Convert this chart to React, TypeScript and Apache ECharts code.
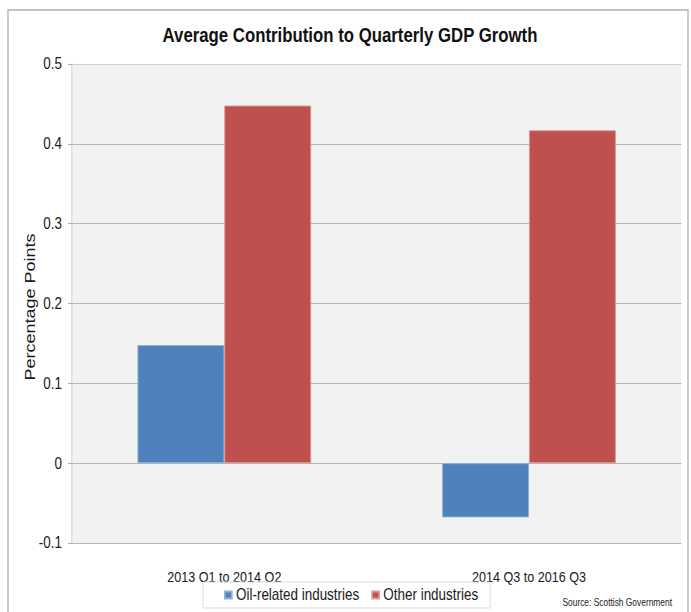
import React, { useEffect, useRef } from "react";
import * as echarts from "echarts";

const categories = ["2013 Q1 to 2014 Q2", "2014 Q3 to 2016 Q3"];
const oilRelated = [0.148, -0.068];
const otherIndustries = [0.448, 0.417];
const seriesNames = ["Oil-related industries", "Other industries"];
const titleText = "Average Contribution to Quarterly GDP Growth";
const yAxisTitle = "Percentage Points";
const sourceText = "Source: Scottish Government";

// The reference is a horizontally squeezed chart: draw wider and compress by S.
const S = 0.84;
const W = 691;
const H = 612;
const FONT = "'Liberation Sans', Arial, sans-serif";

export default function App() {
  const ref = useRef<HTMLDivElement>(null);
  useEffect(() => {
    if (!ref.current) return;
    const chart = echarts.init(ref.current, null, { renderer: "svg" });
    const hx = (v: number) => v / S;
    chart.setOption({
      animation: false,
      backgroundColor: "#ffffff",
      textStyle: { fontFamily: FONT },
      graphic: [
        {
          type: "rect",
          shape: { x: hx(8), y: 10, width: hx(680), height: 620 },
          style: { fill: "none", stroke: "#c3c3c3", lineWidth: 2 },
          silent: true,
        },
        {
          type: "text",
          x: hx(350),
          y: 35,
          style: {
            text: titleText,
            font: `bold 20px ${FONT}`,
            fill: "#111111",
            align: "center",
            verticalAlign: "middle",
          },
        },
        {
          type: "text",
          x: hx(30),
          y: 307,
          rotation: Math.PI / 2,
          style: {
            text: yAxisTitle,
            font: `18px ${FONT}`,
            fill: "#1a1a1a",
            align: "center",
            verticalAlign: "middle",
          },
        },
        {
          type: "text",
          x: hx(672),
          y: 603,
          style: {
            text: sourceText,
            font: `10px ${FONT}`,
            fill: "#1a1a1a",
            align: "right",
            verticalAlign: "middle",
          },
        },
      ],
      legend: {
        left: hx(203),
        top: 582,
        padding: [5, hx(12), 5, hx(21)],
        itemGap: hx(12),
        itemWidth: hx(7),
        itemHeight: 7,
        icon: "rect",
        borderColor: "#d9d9d9",
        borderWidth: 1,
        backgroundColor: "#ffffff",
        textStyle: { fontSize: 16, fontFamily: FONT, color: "#1a1a1a" },
        data: seriesNames,
      },
      grid: {
        left: hx(72),
        right: hx(10),
        top: 64,
        bottom: 69,
        show: true,
        backgroundColor: "#f2f2f2",
        borderWidth: 0,
      },
      xAxis: {
        type: "category",
        data: categories,
        axisLine: { show: false },
        axisTick: { show: false },
        axisLabel: { margin: 26, fontSize: 15, fontFamily: FONT, color: "#1a1a1a" },
      },
      yAxis: {
        type: "value",
        min: -0.1,
        max: 0.5,
        interval: 0.1,
        axisLine: { show: true, lineStyle: { color: "#c8c8c8", width: 1 } },
        axisTick: { show: true, length: hx(4), lineStyle: { color: "#a6a6a6" } },
        axisLabel: {
          margin: hx(10),
          fontSize: 16,
          fontFamily: FONT,
          color: "#1a1a1a",
          formatter: (v: number) => (Math.abs(v) < 1e-9 ? "0" : String(Number(v.toFixed(1)))),
        },
        splitLine: {
          show: true,
          lineStyle: {
            color: ["#b0b0b0", "#b0b0b0", "#b0b0b0", "#b0b0b0", "#b0b0b0", "#b0b0b0", "#cfcfcf"],
            width: 1,
          },
        },
      },
      series: [
        {
          name: seriesNames[0],
          type: "bar",
          data: oilRelated,
          barGap: "0%",
          barCategoryGap: "43%",
          itemStyle: { color: "#4f81bd", borderColor: "#8fb0da", borderWidth: 1 },
        },
        {
          name: seriesNames[1],
          type: "bar",
          data: otherIndustries,
          barGap: "0%",
          barCategoryGap: "43%",
          itemStyle: { color: "#c0504d", borderColor: "#dc9896", borderWidth: 1 },
        },
      ],
    });
    return () => chart.dispose();
  }, []);
  return (
    <div style={{ position: "absolute", left: 0, top: 0, width: W, height: H, overflow: "hidden" }}>
      <div
        ref={ref}
        style={{
          width: W / S,
          height: H,
          transform: `scaleX(${S})`,
          transformOrigin: "0 0",
        }}
      />
    </div>
  );
}
